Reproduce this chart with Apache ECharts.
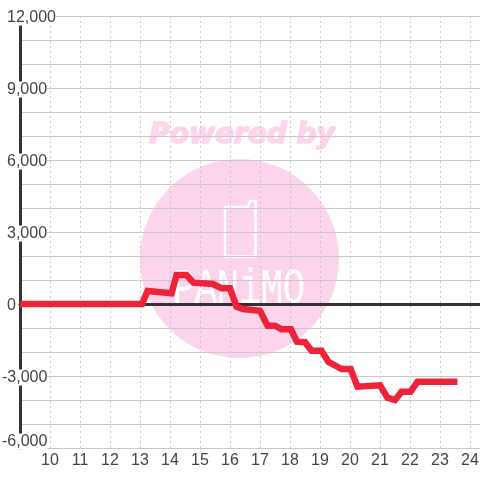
<!DOCTYPE html>
<html>
<head>
<meta charset="utf-8">
<style>html,body{margin:0;padding:0;background:#fff}#chart{width:480px;height:480px}</style>
<script src="https://cdn.jsdelivr.net/npm/echarts@6/dist/echarts.min.js"></script>
</head>
<body>
<div id="chart"></div>
<script>
// hour of day, and value at that hour
var hours = [9, 13.07, 13.25, 14.05, 14.22, 14.55, 14.78, 15.43, 15.72, 16, 16.22, 16.43, 17, 17.25, 17.5, 17.72, 18.03, 18.23, 18.5, 18.72, 19.05, 19.28, 19.72, 20.02, 20.25, 21, 21.25, 21.5, 21.72, 22.02, 22.25, 23.58];
var values = [0, 0, 540, 445, 1208, 1208, 890, 833, 655, 655, -110, -210, -280, -905, -905, -1055, -1055, -1570, -1590, -1945, -1945, -2405, -2710, -2710, -3445, -3390, -3905, -4000, -3655, -3655, -3240, -3240];
var points = hours.map(function (h, i) { return [h, values[i]]; });
var logoLetters = ['P', 'A', 'N', 'i', 'M', 'O'];

var pink = '#fcd5ec';
var myChart = echarts.init(document.getElementById('chart'));

// watermark behind the plot
var watermark = [
    { type: 'text', z: -1, style: { x: 242, y: 136, text: 'Powered by', align: 'center', verticalAlign: 'middle', fill: pink, stroke: pink, lineWidth: 1.5, font: 'italic bold 28px "DejaVu Sans"' } },
    { type: 'circle', z: -2, shape: { cx: 239.5, cy: 258.5, r: 99.5 }, style: { fill: pink } },
    { type: 'polygon', z: -1, shape: { points: [[225, 207], [248, 207], [250, 201], [255.5, 201], [255.5, 256.5], [225, 256.5]] }, style: { fill: null, stroke: '#fff', lineWidth: 2.5, lineJoin: 'round' } }
];
logoLetters.forEach(function (letter, i) {
    watermark.push({ type: 'text', z: -1, x: 184 + i * 22, y: 290, scaleY: 1.3, style: { x: 0, y: 0, text: letter, align: 'center', verticalAlign: 'middle', fill: '#fff', font: '38px "Liberation Mono"' } });
});

var option = {
    animation: false,
    grid: { left: 20, right: 0, top: 16, bottom: 32, outerBoundsMode: 'none' },
    graphic: watermark,
    xAxis: [
        {
            type: 'value', min: 9, max: 24.333, interval: 1,
            axisLine: { onZero: false, lineStyle: { color: '#c8c8c8', width: 1 } },
            axisTick: { show: false },
            axisLabel: { color: '#444', fontSize: 16, fontFamily: 'Liberation Sans', margin: 5, showMinLabel: false, showMaxLabel: false },
            splitLine: { show: true, lineStyle: { color: '#c8c8c8', type: [2, 3], width: 1 } }
        },
        {
            // dark line through zero, no labels
            type: 'value', min: 9, max: 24.333, position: 'bottom',
            axisLine: { onZero: true, lineStyle: { color: '#333', width: 3 } },
            axisTick: { show: false }, axisLabel: { show: false }, splitLine: { show: false }
        }
    ],
    yAxis: {
        type: 'value', min: -6000, max: 12000, interval: 1000,
        axisLine: { show: true, onZero: false, lineStyle: { color: '#333', width: 3 } },
        axisTick: { show: false },
        axisLabel: {
            align: 'left', margin: 18,
            verticalAlignMinLabel: 'bottom',
            // empty first line pushes the number down a little, the minus sign hangs to the left
            formatter: function (v) {
                if (v % 3000 !== 0) {
                    return '';
                }
                var text = '{t|' + v.toLocaleString('en-US') + '}';
                return '{gap| }\n' + (v < 0 ? text : '{pad|}' + text);
            },
            rich: {
                gap: { lineHeight: 3, fontSize: 3 },
                pad: { width: 5, lineHeight: 13 },
                t: { color: '#444', fontSize: 16, fontFamily: 'Liberation Sans', lineHeight: 13, backgroundColor: '#fff' }
            }
        },
        splitLine: { show: true, lineStyle: { color: '#c8c8c8', width: 1 } }
    },
    series: [
        {
            type: 'line', xAxisIndex: 0, data: points, showSymbol: false,
            lineStyle: { color: '#ee2238', width: 6.5, join: 'miter' },
            clip: false
        }
    ]
};
myChart.setOption(option);
</script>
</body>
</html>
